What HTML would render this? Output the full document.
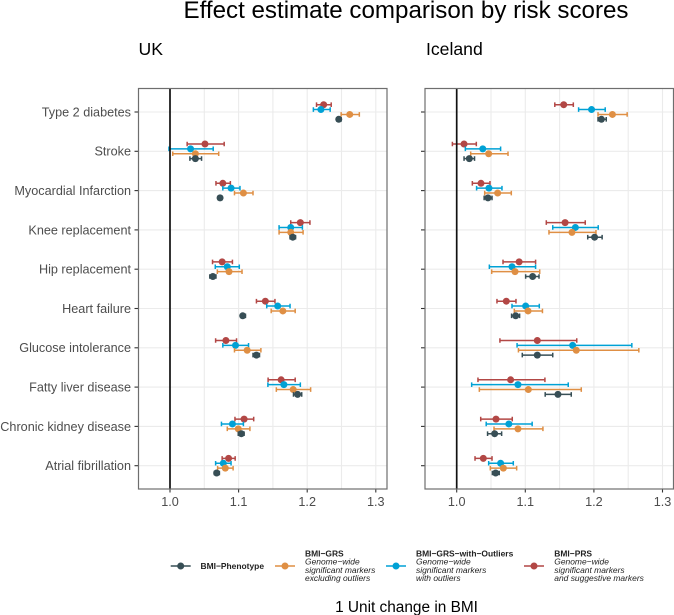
<!DOCTYPE html>
<html>
<head>
<meta charset="utf-8">
<style>
html,body{margin:0;padding:0;background:#fff;}
svg{display:block;font-family:"Liberation Sans",Arial,sans-serif;}
</style>
</head>
<body>
<svg id="chart" width="674" height="615" viewBox="0 0 674 615" xmlns="http://www.w3.org/2000/svg">
<text x="406" y="18" font-size="24.15" text-anchor="middle" fill="#000">Effect estimate comparison by risk scores</text>
<text x="138.5" y="55" font-size="17.6" fill="#000">UK</text>
<text x="426" y="55" font-size="17.6" fill="#000">Iceland</text>
<g id="panels"></g>
<g id="legend">
<text x="200.5" y="568.8" font-size="8.45" font-weight="bold" fill="#222">BMI−Phenotype</text>
<text font-size="8.45" fill="#222"><tspan x="305" y="556.5" font-weight="bold">BMI−GRS</tspan><tspan x="305" y="564.7" font-style="italic">Genome−wide</tspan><tspan x="305" y="572.8" font-style="italic">significant markers</tspan><tspan x="305" y="581" font-style="italic">excluding outliers</tspan></text>
<text font-size="8.45" fill="#222"><tspan x="416" y="556.5" font-weight="bold">BMI−GRS−with−Outliers</tspan><tspan x="416" y="564.7" font-style="italic">Genome−wide</tspan><tspan x="416" y="572.8" font-style="italic">significant markers</tspan><tspan x="416" y="581" font-style="italic">with outliers</tspan></text>
<text font-size="8.45" fill="#222"><tspan x="554.3" y="556.5" font-weight="bold">BMI−PRS</tspan><tspan x="554.3" y="564.7" font-style="italic">Genome−wide</tspan><tspan x="554.3" y="572.8" font-style="italic">significant markers</tspan><tspan x="554.3" y="581" font-style="italic">and suggestive markers</tspan></text>
</g>
<text x="406.5" y="612" font-size="15.4" text-anchor="middle" fill="#000">1 Unit change in BMI</text>
</svg>
<script>
const categories = ["Type 2 diabetes","Stroke","Myocardial Infarction","Knee replacement","Hip replacement","Heart failure","Glucose intolerance","Fatty liver disease","Chronic kidney disease","Atrial fibrillation"];
const xTickLabels = ["1.0","1.1","1.2","1.3"];
const xTickValues = [1.0,1.1,1.2,1.3];
const xMinorGrid = [1.05,1.15,1.25];

const ukPrsEst = [1.224,1.051,1.077,1.190,1.076,1.139,1.0815,1.162,1.108,1.0854];
const ukPrsLo  = [1.2136,1.025,1.067,1.176,1.062,1.126,1.0665,1.143,1.0947,1.076];
const ukPrsHi  = [1.235,1.079,1.088,1.204,1.091,1.153,1.097,1.1825,1.122,1.095];
const ukOutEst = [1.220,1.030,1.089,1.176,1.0835,1.157,1.0955,1.166,1.091,1.0777];
const ukOutLo  = [1.209,0.9985,1.077,1.159,1.066,1.141,1.077,1.1427,1.075,1.0665];
const ukOutHi  = [1.2335,1.063,1.102,1.193,1.101,1.175,1.1145,1.190,1.107,1.089];
const ukGrsEst = [1.262,1.037,1.107,1.176,1.086,1.1645,1.1125,1.1796,1.0995,1.0806];
const ukGrsLo  = [1.2495,1.004,1.094,1.159,1.069,1.1475,1.094,1.155,1.0835,1.0694];
const ukGrsHi  = [1.276,1.071,1.121,1.194,1.105,1.1825,1.1325,1.205,1.1165,1.092];
const ukPheEst = [1.246,1.037,1.073,1.179,1.0625,1.106,1.126,1.186,1.104,1.068];
const ukPheLo  = [1.243,1.029,1.070,1.175,1.058,1.103,1.121,1.180,1.0995,1.0646];
const ukPheHi  = [1.2495,1.046,1.076,1.183,1.067,1.110,1.1305,1.192,1.108,1.072];

const icPrsEst = [1.156,1.0107,1.0354,1.158,1.091,1.0723,1.1175,1.0786,1.0573,1.0388];
const icPrsLo  = [1.143,0.9937,1.0228,1.1306,1.0675,1.0587,1.063,1.031,1.035,1.0267];
const icPrsHi  = [1.170,1.0286,1.0485,1.1874,1.115,1.0864,1.175,1.1286,1.081,1.0515];
const icOutEst = [1.1966,1.038,1.047,1.173,1.0806,1.1005,1.169,1.0893,1.076,1.064];
const icOutLo  = [1.1777,1.0126,1.029,1.140,1.0476,1.0806,1.088,1.0218,1.043,1.0466];
const icOutHi  = [1.2165,1.064,1.066,1.2063,1.115,1.1204,1.2553,1.1626,1.110,1.0825];
const icGrsEst = [1.227,1.0466,1.0597,1.168,1.085,1.104,1.1743,1.1044,1.0893,1.068];
const icGrsLo  = [1.206,1.0204,1.0408,1.1345,1.051,1.084,1.090,1.033,1.0544,1.049];
const icGrsHi  = [1.2485,1.0748,1.0796,1.203,1.121,1.125,1.2655,1.1816,1.1257,1.0874];
const icPheEst = [1.211,1.0184,1.0456,1.201,1.1107,1.086,1.1175,1.1476,1.0553,1.0568];
const icPheLo  = [1.206,1.0107,1.040,1.191,1.1005,1.080,1.0956,1.129,1.045,1.052];
const icPheHi  = [1.218,1.026,1.0515,1.212,1.120,1.0917,1.140,1.167,1.0655,1.062];

const NS = "http://www.w3.org/2000/svg";
const root = document.getElementById("panels");
const legendG = document.getElementById("legend");
const PANEL_TOP = 88.5, PANEL_BOTTOM = 489;
const colors = {phenotype:"#374e55", grs:"#df8f44", outliers:"#00a1d5", prs:"#b24745"};

function yScale(i){ return 112 + 39.3 * i; }
function mk(parent, tag, attrs){
  const el = document.createElementNS(NS, tag);
  for (const k in attrs) el.setAttribute(k, attrs[k]);
  parent.appendChild(el);
  return el;
}
function drawPanel(name, left, right, x0, showLabels, series){
  const xScale = v => x0 + (v - 1) * 686;
  const g = mk(root, "g", {});
  
  
  xMinorGrid.concat(xTickValues).forEach(v => {
    const l = mk(g, "line", {x1:xScale(v), x2:xScale(v), y1:PANEL_TOP, y2:PANEL_BOTTOM, stroke:"#ebebeb", "stroke-width":1.1});
    
    
  });
  categories.forEach((c, i) => {
    const y = yScale(i);
    const l = mk(g, "line", {x1:left, x2:right, y1:y, y2:y, stroke:"#ebebeb", "stroke-width":1.1});
    
    
    const t = mk(g, "line", {x1:left - 4, x2:left, y1:y, y2:y, stroke:"#333", "stroke-width":1.1});
    
    
    if (showLabels) {
      const tx = mk(g, "text", {x:left - 7.5, y:y + 4.4, "font-size":12.65, "text-anchor":"end", fill:"#4d4d4d"});
      
      
      tx.textContent = c;
    }
  });
  xTickValues.forEach((v, i) => {
    const t = mk(g, "line", {x1:xScale(v), x2:xScale(v), y1:PANEL_BOTTOM, y2:PANEL_BOTTOM + 3.5, stroke:"#333", "stroke-width":1.1});
    
    
    const tx = mk(g, "text", {x:xScale(v), y:506, "font-size":12.65, "text-anchor":"middle", fill:"#4d4d4d"});
    
    
    tx.textContent = xTickLabels[i];
  });
  series.forEach(s => {
    const sg = mk(g, "g", {});
    
    
    s.est.forEach((e, i) => {
      const y = yScale(i) + s.dy;
      const x1 = xScale(s.lo[i]), x2 = xScale(s.hi[i]);
      const col = colors[s.key];
      const bar = mk(sg, "path", {d:"M"+x1+" "+(y-2.3)+"V"+(y+2.3)+"M"+x1+" "+y+"H"+x2+"M"+x2+" "+(y-2.3)+"V"+(y+2.3), stroke:col, "stroke-width":1.5, fill:"none"});
      
      
      const p = mk(sg, "circle", {cx:xScale(e), cy:y, r:3.5, fill:col});
      
      
    });
  });
  const zero = mk(g, "line", {x1:xScale(1), x2:xScale(1), y1:PANEL_TOP, y2:PANEL_BOTTOM, stroke:"#111", "stroke-width":1.7});
  
  
  const border = mk(g, "rect", {x:left, y:PANEL_TOP, width:right-left, height:PANEL_BOTTOM-PANEL_TOP, fill:"none", stroke:"#6e6e6e", "stroke-width":1.2});
  
  
}

drawPanel("uk", 138.5, 387, 170, true, [
  {key:"prs", dy:-7.3, est:ukPrsEst, lo:ukPrsLo, hi:ukPrsHi},
  {key:"outliers", dy:-2.45, est:ukOutEst, lo:ukOutLo, hi:ukOutHi},
  {key:"grs", dy:2.45, est:ukGrsEst, lo:ukGrsLo, hi:ukGrsHi},
  {key:"phenotype", dy:7.3, est:ukPheEst, lo:ukPheLo, hi:ukPheHi}
]);
drawPanel("iceland", 425, 673.5, 456.7, false, [
  {key:"prs", dy:-7.3, est:icPrsEst, lo:icPrsLo, hi:icPrsHi},
  {key:"outliers", dy:-2.45, est:icOutEst, lo:icOutLo, hi:icOutHi},
  {key:"grs", dy:2.45, est:icGrsEst, lo:icGrsLo, hi:icGrsHi},
  {key:"phenotype", dy:7.3, est:icPheEst, lo:icPheLo, hi:icPheHi}
]);

[["phenotype",170.7],["grs",275],["outliers",386],["prs",524]].forEach(k => {
  const ln = mk(legendG, "line", {x1:k[1], x2:k[1]+20, y1:566, y2:566, stroke:colors[k[0]], "stroke-width":1.5});
  
  
  const d = mk(legendG, "circle", {cx:k[1]+10, cy:566, r:3.5, fill:colors[k[0]]});
  
  
});
</script>
</body>
</html>
